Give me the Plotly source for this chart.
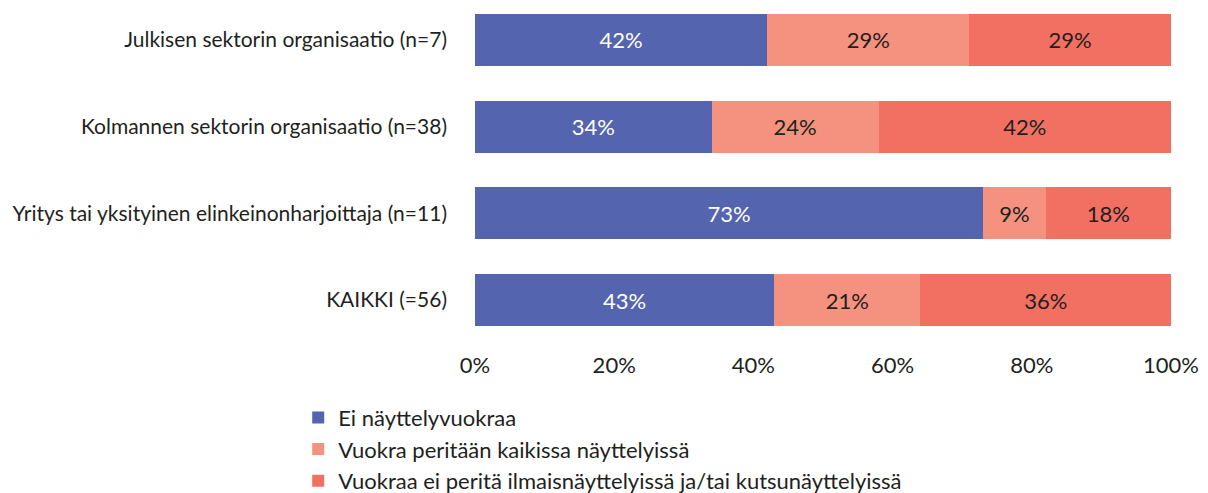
import plotly.graph_objects as go

categories = [
    "Julkisen sektorin organisaatio (n=7)",
    "Kolmannen sektorin organisaatio (n=38)",
    "Yritys tai yksityinen elinkeinonharjoittaja (n=11)",
    "KAIKKI (=56)",
]
series_names = [
    "Ei näyttelyvuokraa",
    "Vuokra peritään kaikissa näyttelyissä",
    "Vuokraa ei peritä ilmaisnäyttelyissä ja/tai kutsunäyttelyissä",
]
ei_vuokraa = [42, 34, 73, 43]
kaikissa = [29, 24, 9, 21]
ilmais = [29, 42, 18, 36]
tick_vals = [0, 20, 40, 60, 80, 100]
tick_text = ["0%", "20%", "40%", "60%", "80%", "100%"]

colors = ["#5564AF", "#F4927F", "#F27062"]
text_colors = ["#FFFFFF", "#231F20", "#231F20"]
FONT = "Lato"
FS = 22

fig = go.Figure()
for i, (name, vals) in enumerate(zip(series_names, [ei_vuokraa, kaikissa, ilmais])):
    fig.add_trace(go.Bar(
        y=categories, x=vals, name=name, orientation="h",
        marker=dict(color=colors[i], line=dict(width=0)),
        text=[f"{v}%" for v in vals], textposition="inside",
        insidetextanchor="middle", constraintext="none",
        textfont=dict(color=text_colors[i], size=FS, family=FONT),
        legendgroup=f"g{i}",
    ))

fig.update_layout(
    barmode="stack", bargap=0.4,
    width=1200, height=485,
    margin=dict(l=467, r=37, t=0, b=163, autoexpand=False),
    plot_bgcolor="white", paper_bgcolor="white",
    font=dict(family=FONT, size=FS, color="#231F20"),
    showlegend=True,
    legend=dict(
        x=-0.254, y=-0.207, xanchor="left", yanchor="top",
        orientation="v", traceorder="normal",
        font=dict(size=FS, family=FONT, color="#231F20"),
        tracegroupgap=1, itemwidth=30,
    ),
    xaxis=dict(
        range=[0, 100], tickvals=tick_vals, ticktext=tick_text,
        showgrid=False, zeroline=False, showline=False,
        ticks="", ticklabelstandoff=20, automargin=False,
        tickfont=dict(size=FS, family=FONT, color="#231F20"),
    ),
    yaxis=dict(
        categoryorder="array", categoryarray=categories,
        range=[3.345, -0.369], showgrid=False, zeroline=False,
        ticks="", ticklabelstandoff=27, automargin=False,
        tickfont=dict(size=21, family=FONT, color="#231F20"),
    ),
)

fig.write_html("out.html")
